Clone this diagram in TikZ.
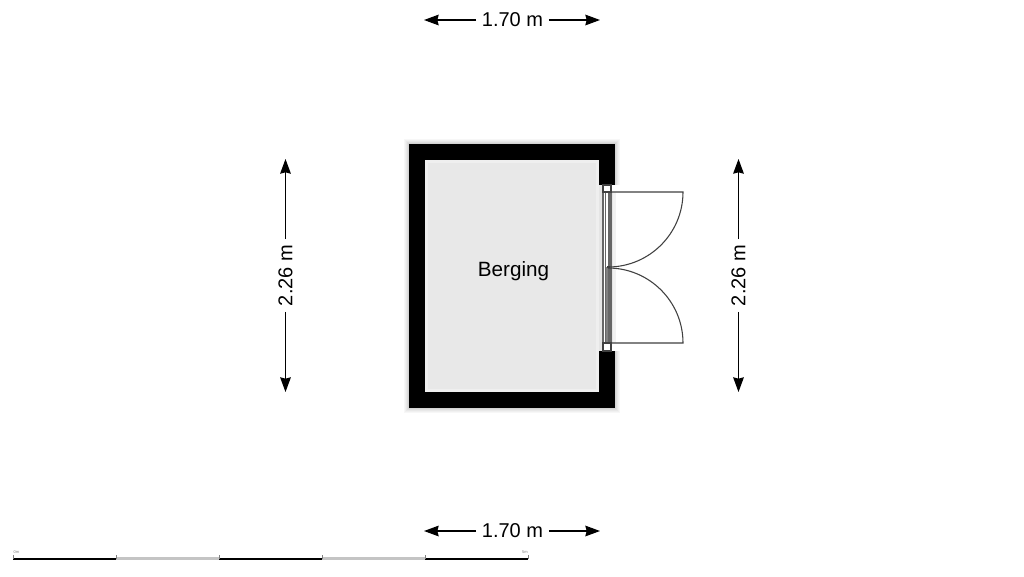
\documentclass[tikz,border=0pt]{standalone}
\usepackage{xcolor}
\usepackage{fontspec}
\setmainfont{Liberation Sans}
\usetikzlibrary{arrows.meta}
\definecolor{floorgray}{HTML}{E8E8E8}
\definecolor{edgegray}{HTML}{EFEFEF}
\definecolor{scalegray}{HTML}{C4C4C4}
\definecolor{doorline}{HTML}{404040}
\tikzset{
	dimlabel/.style={font=\fontsize{15pt}{16pt}\selectfont,inner ysep=0pt,inner xsep=4.2pt},
	dimline/.style={-{Stealth[length=11pt,width=8pt,inset=1pt]},line width=0.9pt,black},
	door/.style={draw=doorline,line width=0.8pt},
	jamb/.style={draw=doorline!80,line width=0.8pt},
	barblack/.style={line width=1.4pt,black},
	bargray/.style={line width=2.2pt,scalegray},
	bartick/.style={line width=0.5pt,gray},
	tinylabel/.style={font=\fontsize{3pt}{3pt}\selectfont,text=gray,inner sep=0pt}
}
\begin{document}
\begin{tikzpicture}[x=0.75pt,y=-0.75pt]
	\useasboundingbox (0,0) rectangle (1024,576);
	\fill[white] (0,0) rectangle (1024,576);
	% soft shadow round the walls
	\foreach \g/\d in {3/5,6/4,9/3,13/2,17/1} {
		\fill[black!\g] (409-\d,144-\d) rectangle (615+\d,408+\d);
	}
	% floor
	\fill[black] (409,144) rectangle (615,408);
	\fill[edgegray] (425,160) rectangle (599,392);
	\fill[floorgray] (428,163) rectangle (596,389);
	% door opening
	\fill[white] (603,185) rectangle (621,351);
	\fill[white!90!black] (599,185) rectangle (603,351);
	\fill[white!90!black] (611,192) rectangle (613,343);
	\fill[white!95!black] (613,192) rectangle (616,343);
	% frame and sill
	\fill[gray] (605.5,267) rectangle (609,343);
	\draw[jamb] (603,192) -- (603,343);
	\draw[jamb] (605.5,192) -- (605.5,343);
	\draw[jamb] (609,192) -- (609,343);
	\draw[jamb] (611,192) -- (611,343);
	\draw[door] (603,185) rectangle (611,192);
	\draw[door] (603,343) rectangle (611,351);
	% door leaves
	\draw[door] (608,192) -- (683,192) arc[start angle=0,end angle=-90,x radius=75,y radius=-75];
	\draw[door] (608,343) -- (683,343) arc[start angle=0,end angle=90,x radius=75,y radius=-75];
	\draw[line width=1pt,doorline] (607,267) -- (610,267);

	\node (room) at (513.5,271) {\fontsize{15.5pt}{18pt}\selectfont Berging};

	\node[dimlabel] (dimtop) at (512.5,20) {1.70 m};
	\coordinate (dimtopa) at (424,20);
	\coordinate (dimtopb) at (600,20);
	\draw[dimline] (dimtop) -- (dimtopa);
	\draw[dimline] (dimtop) -- (dimtopb);

	\node[dimlabel] (dimbot) at (512.5,531) {1.70 m};
	\coordinate (dimbota) at (424,531);
	\coordinate (dimbotb) at (600,531);
	\draw[dimline] (dimbot) -- (dimbota);
	\draw[dimline] (dimbot) -- (dimbotb);

	\node[dimlabel,rotate=90] (dimleft) at (285.5,275.5) {2.26 m};
	\coordinate (dimlefta) at (285.5,159);
	\coordinate (dimleftb) at (285.5,392);
	\draw[dimline] (dimleft) -- (dimlefta);
	\draw[dimline] (dimleft) -- (dimleftb);

	\node[dimlabel,rotate=90] (dimright) at (738.5,275.5) {2.26 m};
	\coordinate (dimrighta) at (738.5,159);
	\coordinate (dimrightb) at (738.5,392);
	\draw[dimline] (dimright) -- (dimrighta);
	\draw[dimline] (dimright) -- (dimrightb);

	% scale bar
	\foreach \xa/\xb/\kind in {13/116/barblack,116/219/bargray,219/322/barblack,322/425/bargray,425/528/barblack} {
		\draw[\kind] (\xa,558.7) -- (\xb,558.7);
	}
	\foreach \xa in {13,116,219,322,425,528} {
		\draw[bartick] (\xa,555) -- (\xa,559);
	}
	\node[tinylabel] (scalezero) at (16.5,552.5) {0m};
	\node[tinylabel] (scalefive) at (525,552.5) {5m};
\end{tikzpicture}
\end{document}
